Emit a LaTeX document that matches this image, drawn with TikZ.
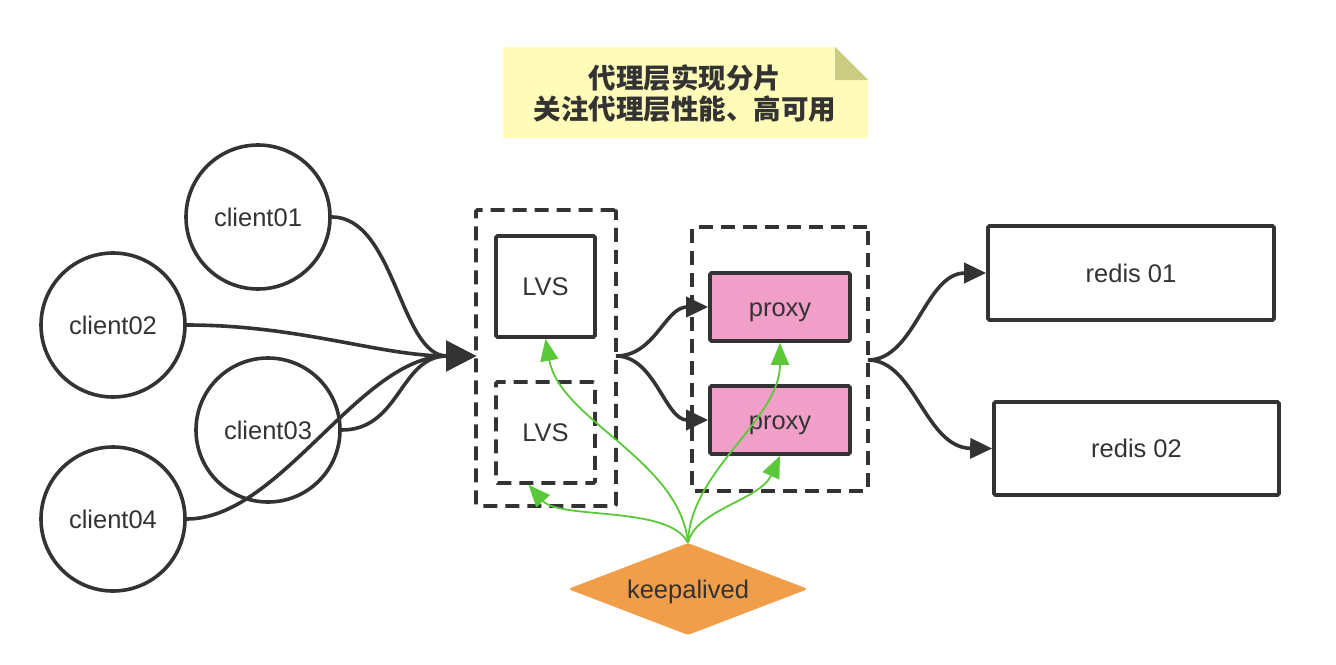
\documentclass[tikz,border=0pt]{standalone}
\usepackage{fontspec}
\setmainfont{Liberation Sans}
\newfontfamily\cjk{Noto Sans CJK SC}
\usetikzlibrary{arrows.meta,shapes.geometric}
\definecolor{dark}{HTML}{333333}
\definecolor{pinkf}{HTML}{F19EC8}
\definecolor{orangef}{HTML}{F19E4B}
\definecolor{notef}{HTML}{FFFBB8}
\definecolor{foldf}{HTML}{CCCC80}
\definecolor{greenl}{HTML}{5BC83A}
\tikzset{
  x=1pt,y=-1pt,
  lbl/.style={font=\fontsize{25.5}{30}\selectfont, text=dark, text height=18.3pt, text depth=0pt},
  client/.style={lbl,circle,draw=dark,line width=3.6pt,minimum size=144pt,inner sep=0pt},
  box/.style={lbl,rectangle,draw=dark,line width=3.6pt,rounded corners=1.5pt,inner sep=0pt},
  dbox/.style={lbl,rectangle,draw=dark,line width=3.6pt,rounded corners=1.5pt,dash pattern=on 14pt off 8pt,inner sep=0pt},
  conn/.style={draw=dark,line width=3.6pt,-{Triangle[length=30pt,width=30pt]}},
  sconn/.style={draw=dark,line width=3.6pt,-{Triangle[length=22pt,width=20pt]}},
  gconn/.style={draw=greenl,line width=1.8pt,-{Triangle[length=22pt,width=18pt]}},
}
\begin{document}
\begin{tikzpicture}
\useasboundingbox (0,0) rectangle (1336,664);
% note
\fill[notef] (503,47) -- (835,47) -- (868,80) -- (868,138) -- (503,138) -- cycle;
\fill[foldf] (835,47) -- (868,80) -- (835,80) -- cycle;
\node[align=center,text=dark,font=\cjk\bfseries\fontsize{27.5}{31}\selectfont] (note) at (685,93) {代理层实现分片\\关注代理层性能、高可用};
% clients
\node[client] (c1) at (258,217) {client01};
\node[client] (c2) at (113,325) {client02};
\node[client] (c3) at (268,430) {client03};
\node[client] (c4) at (113,519) {client04};
% LVS group
\node[dbox,minimum width=140pt,minimum height=296pt] (g1) at (546,358) {};
\node[box,minimum width=99pt,minimum height=101pt] (lvs1) at (545.5,286.5) {LVS};
\node[dbox,minimum width=99pt,minimum height=101pt] (lvs2) at (545.5,432.5) {LVS};
% proxy group
\node[dbox,minimum width=176pt,minimum height=264pt] (g2) at (780,359) {};
\node[box,fill=pinkf,minimum width=140pt,minimum height=68pt] (p1) at (780,307) {proxy};
\node[box,fill=pinkf,minimum width=140pt,minimum height=68pt] (p2) at (780,420) {proxy};
% redis
\node[box,minimum width=286pt,minimum height=94pt] (r1) at (1131,273) {redis 01};
\node[box,minimum width=285pt,minimum height=93pt] (r2) at (1136.5,448.5) {redis 02};
% keepalived
\node[diamond,fill=orangef,minimum width=240pt,minimum height=92pt,aspect=2.6,inner sep=0pt,rounded corners=3pt] (ka) at (688,589) {};
\node[lbl] (kat) at (688,589) {keepalived};
% coordinates
\coordinate (tip) at (476,356);
\coordinate (g1o) at (616,356);
\coordinate (g2o) at (868,360);
\coordinate (kt) at (688,543);
% client connectors
\draw[conn] (c1.east) .. controls (395,217) and (400,356) .. (tip);
\draw[conn] (c2.east) .. controls (300,325) and (380,356) .. (tip);
\draw[conn] (c3.east) .. controls (400,430) and (400,356) .. (tip);
\draw[conn] (c4.east) .. controls (280,519) and (360,356) .. (tip);
% to proxies
\draw[sconn] (g1o) .. controls (655,356) and (665,307) .. (p1.west);
\draw[sconn] (g1o) .. controls (655,356) and (665,420) .. (p2.west);
% to redis
\draw[sconn] (g2o) .. controls (915,360) and (925,273) .. (r1.west);
\draw[sconn] (g2o) .. controls (915,360) and (925,448) .. (r2.west);
% keepalived
\draw[gconn] (kt) .. controls (680,460) and (560,420) .. (lvs1.south);
\draw[gconn] (kt) .. controls (670,505) and (560,520) .. ([xshift=-17pt]lvs2.south);
\draw[gconn] (kt) .. controls (690,470) and (780,420) .. (p1.south);
\draw[gconn] (kt) .. controls (695,510) and (760,500) .. (p2.south);
\end{tikzpicture}
\end{document}
